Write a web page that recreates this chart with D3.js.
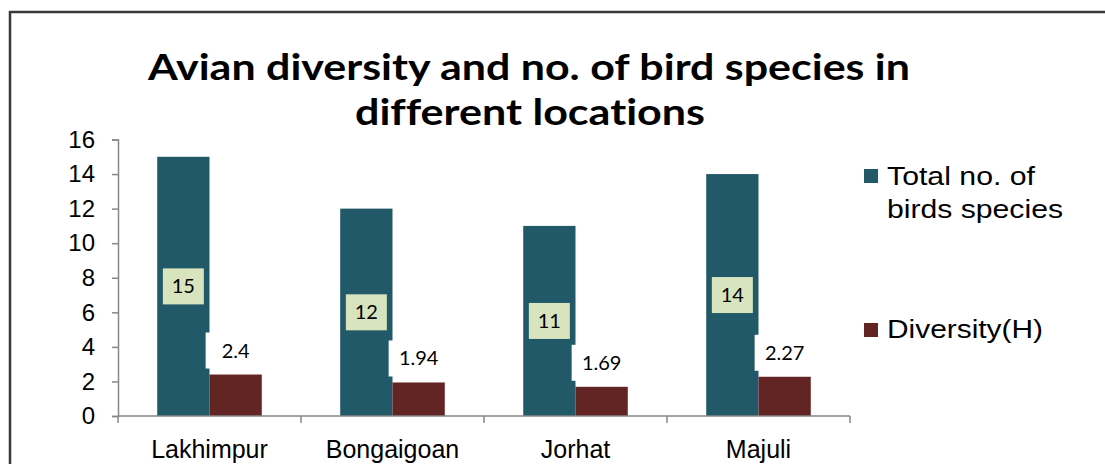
<!DOCTYPE html>
<html>
<head>
<meta charset="utf-8">
<script src="https://cdn.jsdelivr.net/npm/d3@7"></script>
<style>
  html, body { margin: 0; padding: 0; background: #fff; }
  svg { display: block; }
  text { font-variant-ligatures: none; }
</style>
</head>
<body>
<svg id="chart" width="1105" height="464"></svg>
<script>
const categories = ["Lakhimpur", "Bongaigoan", "Jorhat", "Majuli"];
const seriesNames = ["Total no. of birds species", "Diversity(H)"];
const totalSpecies = [15, 12, 11, 14];
const diversityH = [2.4, 1.94, 1.69, 2.27];
const diversityLabels = ["2.4", "1.94", "1.69", "2.27"];
const yTicks = [0, 2, 4, 6, 8, 10, 12, 14, 16];
const titleLines = ["Avian diversity and no. of bird species in", "different locations"];
const legendLines = [["Total no. of", "birds species"], ["Diversity(H)"]];
const colors = ["#225968", "#632524"];

const svg = d3.select("#chart");

// frame
svg.append("rect")
  .attr("x", 10).attr("y", 12)
  .attr("width", 1120).attr("height", 480)
  .attr("fill", "none").attr("stroke", "#3a3a3a").attr("stroke-width", 2.5);

// title
const titleSpecs = [{ y: 80, w: 762, cx: 529 }, { y: 125, w: 350, cx: 530 }];
titleLines.forEach((t, i) => {
  svg.append("text")
    .attr("x", titleSpecs[i].cx).attr("y", titleSpecs[i].y)
    .attr("text-anchor", "middle")
    .attr("font-family", "Lato, 'Open Sans', sans-serif")
    .attr("font-weight", 700)
    .attr("font-size", 37)
    .attr("fill", "#000")
    .attr("textLength", titleSpecs[i].w)
    .attr("lengthAdjust", "spacingAndGlyphs")
    .text(t);
});

const x0 = d3.scaleBand().domain(categories).range([118, 850]).paddingInner(0).paddingOuter(0);
const x1 = d3.scaleBand().domain(seriesNames).range([0, x0.bandwidth()]).paddingInner(0).paddingOuter(0.75);
const y = d3.scaleLinear().domain([0, 16]).range([416, 139.5]);

const axisColor = "#878787";

// y axis
const yAxis = svg.append("g").attr("transform", "translate(118,0)")
  .call(d3.axisLeft(y).tickValues(yTicks).tickSize(6).tickPadding(17).tickSizeOuter(6));
yAxis.select(".domain").attr("stroke", axisColor).attr("stroke-width", 1.5);
yAxis.selectAll(".tick line").attr("stroke", axisColor).attr("stroke-width", 1.5);
yAxis.selectAll(".tick text")
  .attr("font-family", "'Liberation Sans', Arial, sans-serif")
  .attr("font-size", 24).attr("fill", "#000");

// bars
const groups = svg.append("g").selectAll("g")
  .data(categories).join("g")
  .attr("transform", d => `translate(${x0(d)},0)`);

groups.append("rect")
  .attr("x", x1(seriesNames[0]))
  .attr("y", (d, i) => y(totalSpecies[i]))
  .attr("width", x1.bandwidth())
  .attr("height", (d, i) => y(0) - y(totalSpecies[i]))
  .attr("fill", colors[0]);

groups.append("rect")
  .attr("x", x1(seriesNames[1]))
  .attr("y", (d, i) => y(diversityH[i]))
  .attr("width", x1.bandwidth())
  .attr("height", (d, i) => y(0) - y(diversityH[i]))
  .attr("fill", colors[1]);

// x axis
const xAxisG = svg.append("g");
xAxisG.append("line")
  .attr("x1", 118).attr("x2", 850).attr("y1", y(0)).attr("y2", y(0))
  .attr("stroke", axisColor).attr("stroke-width", 1.5);
const boundaries = categories.map(c => x0(c)).concat([x0.range()[1]]);
xAxisG.selectAll("line.tk").data(boundaries).join("line").attr("class", "tk")
  .attr("x1", d => d).attr("x2", d => d)
  .attr("y1", y(0)).attr("y2", y(0) + 7)
  .attr("stroke", axisColor).attr("stroke-width", 1.5);
xAxisG.selectAll("text").data(categories).join("text")
  .attr("x", d => x0(d) + x0.bandwidth() / 2)
  .attr("y", 458)
  .attr("text-anchor", "middle")
  .attr("font-family", "'Liberation Sans', Arial, sans-serif")
  .attr("font-size", 25).attr("fill", "#000")
  .text(d => d);

// data labels - total species (in bar middle)
const labelFont = "Lato, 'Open Sans', sans-serif";
groups.append("rect")
  .attr("x", x1(seriesNames[0]) + x1.bandwidth() / 2 - 20.5)
  .attr("y", (d, i) => y(totalSpecies[i] / 2) - 18)
  .attr("width", 41).attr("height", 36)
  .attr("fill", "#d8e4bd");
groups.append("text")
  .attr("x", x1(seriesNames[0]) + x1.bandwidth() / 2)
  .attr("y", (d, i) => y(totalSpecies[i] / 2))
  .attr("dy", "0.35em")
  .attr("text-anchor", "middle")
  .attr("font-family", labelFont).attr("font-size", 20).attr("fill", "#000")
  .text((d, i) => totalSpecies[i]);

// data labels - diversity (outside end)
groups.append("rect")
  .attr("x", x1(seriesNames[1]) + x1.bandwidth() / 2 - 30)
  .attr("y", (d, i) => y(diversityH[i]) - 42)
  .attr("width", 60).attr("height", 36)
  .attr("fill", "#fff");
groups.append("text")
  .attr("x", x1(seriesNames[1]) + x1.bandwidth() / 2)
  .attr("y", (d, i) => y(diversityH[i]) - 24)
  .attr("dy", "0.35em")
  .attr("text-anchor", "middle")
  .attr("font-family", labelFont).attr("font-size", 20).attr("fill", "#000")
  .text((d, i) => diversityLabels[i]);

// legend
const legendSpecs = [
  { sq: 169, base: [185, 218], widths: [148, 176] },
  { sq: 323, base: [338], widths: [156] }
];
legendLines.forEach((lines, i) => {
  const sp = legendSpecs[i];
  svg.append("rect")
    .attr("x", 864).attr("y", sp.sq)
    .attr("width", 14).attr("height", 14)
    .attr("fill", colors[i]);
  lines.forEach((ln, j) => {
    svg.append("text")
      .attr("x", 887).attr("y", sp.base[j])
      .attr("font-family", "'Liberation Sans', Arial, sans-serif")
      .attr("font-size", 26).attr("fill", "#000")
      .attr("textLength", sp.widths[j])
      .attr("lengthAdjust", "spacingAndGlyphs")
      .text(ln);
  });
});
</script>
</body>
</html>
